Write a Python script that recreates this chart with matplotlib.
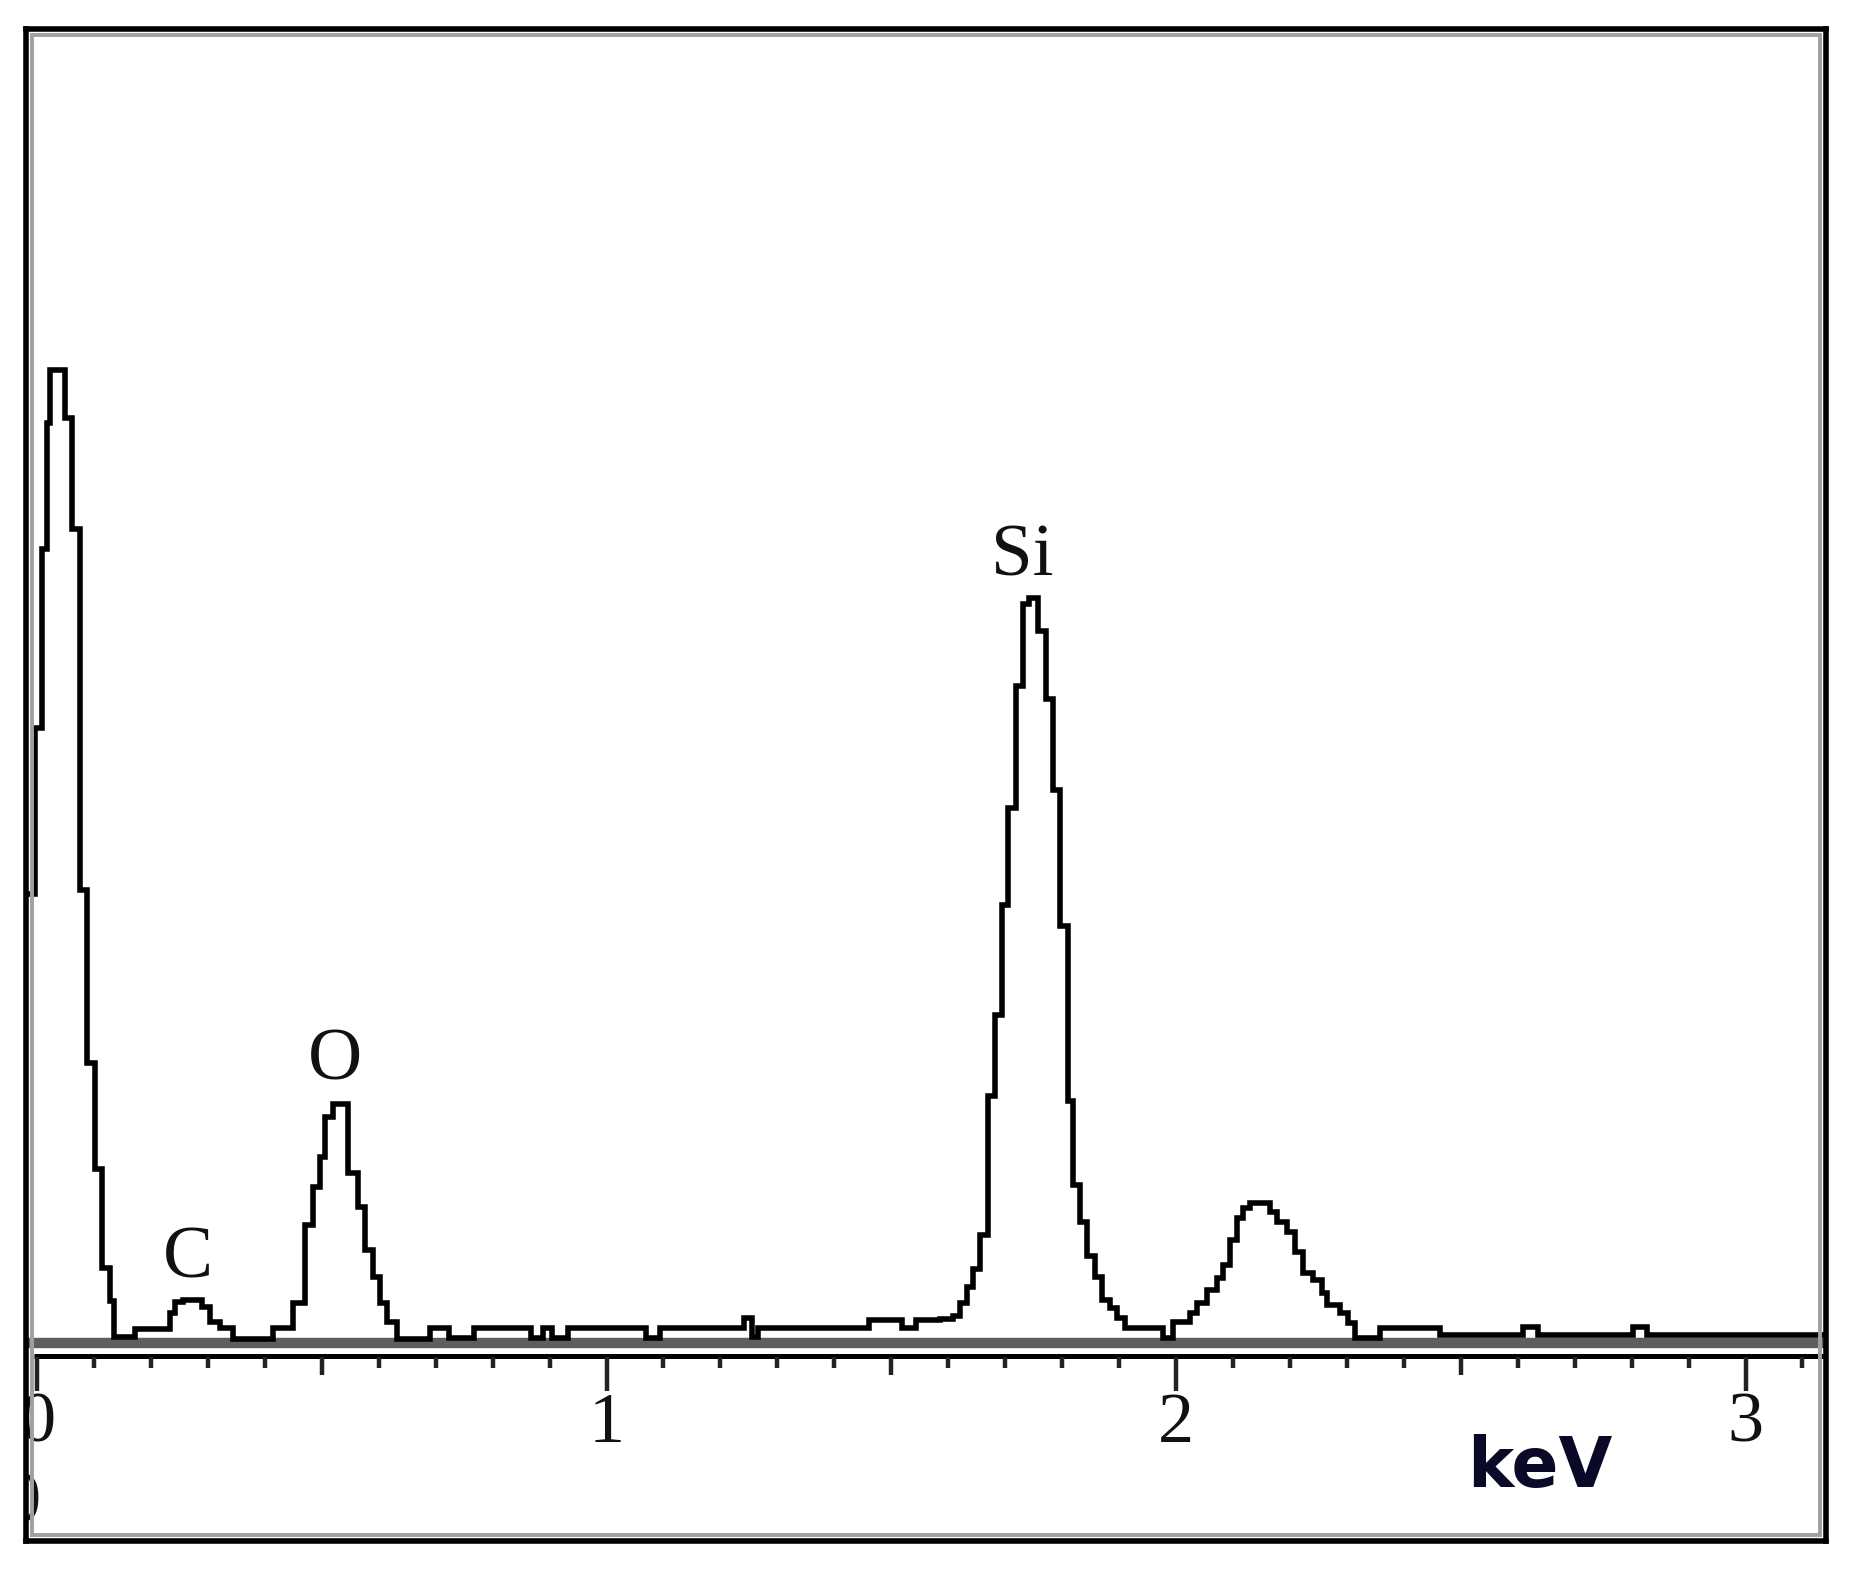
import numpy as np
import matplotlib
matplotlib.use("Agg")
import matplotlib.pyplot as plt
from matplotlib.patches import Rectangle

# ---- spectrum data: channel edges (keV) and counts (arbitrary units) ----
edges = [-0.05, -0.0035, 0.0088, 0.0176, 0.0228, 0.0492, 0.0615, 0.0755, 0.0878,
         0.1018, 0.1141, 0.1282, 0.1352, 0.1721, 0.2335,
         0.2423, 0.2564, 0.2897, 0.3038, 0.3213, 0.3442, 0.4144, 0.4495,
         0.4706, 0.4846, 0.4969, 0.5057, 0.5198, 0.5461, 0.5637, 0.5759, 0.5900,
         0.6023, 0.6146, 0.6321, 0.6901, 0.7234, 0.7673, 0.8674, 0.8885, 0.9043,
         0.9324, 1.0694, 1.0939, 1.2414, 1.2555, 1.2660, 1.4609, 1.5189, 1.5435,
         1.5856,
         1.6084, 1.6207, 1.6330, 1.6435, 1.6558, 1.6699, 1.6822, 1.6945, 1.7050,
         1.7190, 1.7313, 1.7419, 1.7577, 1.7717, 1.7840, 1.7963, 1.8104, 1.8192,
         1.8314, 1.8437, 1.8578, 1.8701, 1.8841, 1.8964, 1.9104, 1.9772, 1.9947,
         2.0246,
         2.0369, 2.0544, 2.0720, 2.0825, 2.0948, 2.1071, 2.1177, 2.1300, 2.1651,
         2.1773, 2.1949, 2.2090, 2.2230, 2.2406, 2.2564, 2.2651, 2.2880, 2.3020,
         2.3143, 2.3582, 2.4636, 2.6093, 2.6356, 2.8025, 2.8270, 3.16]

counts = [449, 615, 794, 920, 973, 925, 814, 453, 280, 174, 75, 42, 6, 14,
          30, 41, 43, 36, 21, 15, 4, 15,
          40, 118, 156, 186, 226, 239, 170, 136, 93, 66, 40, 21, 4, 15, 5, 15,
          5, 15, 5, 15, 5, 15, 25, 6, 15, 23, 15, 23,
          24, 27, 40, 56, 74, 108, 247, 328, 438, 535, 657, 739, 745, 712, 644,
          553, 417, 242, 158, 121, 87, 66, 43, 35, 25, 15, 5, 21,
          30, 40, 53, 65, 78, 103, 125, 135, 140, 131, 121, 111, 91, 70, 63, 50,
          38, 30, 20, 5, 15, 8, 16, 8, 16, 8]

peak_labels = ["C", "O", "Si"]
peak_x = [0.2651, 0.5233, 1.7296]
peak_y = [66, 263, 767]

major_ticks = [0, 1, 2, 3]
major_labels = ["0", "1", "2", "3"]
mid_ticks = [0.5, 1.5, 2.5]
minor_ticks = [round(v, 1) for v in np.arange(0.1, 3.15, 0.1)
               if abs(v * 2 - round(v * 2)) > 1e-6]
axis_unit = "keV"

# ---- figure ----
W, H = 1850, 1574
fig = plt.figure(figsize=(W / 100, H / 100), dpi=100)
fig.patch.set_facecolor("white")
ax = fig.add_axes([26 / W, 33 / H, 1800 / W, 1512 / H])
ax.set_xlim(-0.0193, 3.1413)
ax.set_ylim(-198, 1314)
ax.set_xticks([])
ax.set_yticks([])
for s in ax.spines.values():
    s.set_linewidth(4.0)
    s.set_color("black")
    s.set_zorder(10)

# inner gray frame line
dx, dy = 6 / 1800, 6 / 1512
ax.add_patch(Rectangle((dx, dy), 1 - 2 * dx, 1 - 2 * dy, transform=ax.transAxes,
                       fill=False, ec="#a0a0a0", lw=2.8, zorder=9))

# baseline band
ax.axhline(0, color="#5e5e5e", lw=7.5, zorder=2)

# spectrum
ax.stairs(counts, edges, baseline=None, color="black", lw=4.0, zorder=3)

# energy axis
ax.plot([-0.006, 3.2], [-12.5, -12.5], color="black", lw=3.6,
        solid_capstyle="butt", zorder=4)
ax.vlines(minor_ticks, -14, -25, color="#222222", lw=3.2, zorder=4)
ax.vlines(mid_ticks, -14, -32, color="#222222", lw=3.2, zorder=4)
ax.vlines(major_ticks, -14, -48, color="#222222", lw=3.2, zorder=4)

serif = ["Liberation Serif", "DejaVu Serif"]
for v, lab in zip(major_ticks, major_labels):
    ax.text(v, -99, lab, ha="center", va="baseline", fontsize=52,
            family=serif, color="#111111", clip_on=True, zorder=5)
# clipped fragment of a digit at lower left
ax.text(-0.026, -179, "0", ha="center", va="baseline", fontsize=52,
        family=serif, color="#111111", clip_on=True, zorder=5)

ax.text(2.511, -144, axis_unit, ha="left", va="baseline", fontsize=50,
        fontweight="bold", family=["DejaVu Sans"], color="#0a0a28", zorder=5)

for lab, x, y in zip(peak_labels, peak_x, peak_y):
    ax.text(x, y, lab, ha="center", va="baseline", fontsize=54,
            family=serif, color="#111111", zorder=5)

fig.savefig("out.png", dpi=100, facecolor="white")
